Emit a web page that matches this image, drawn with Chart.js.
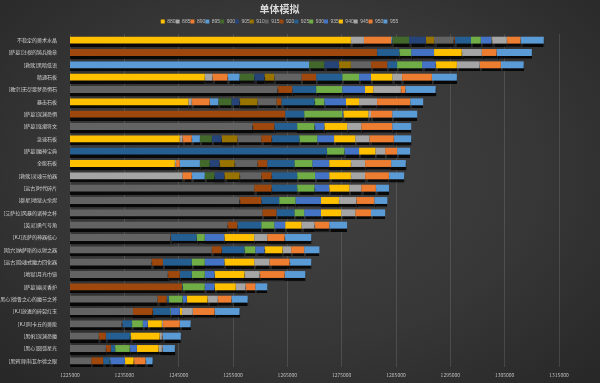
<!DOCTYPE html>
<html lang="zh">
<head>
<meta charset="utf-8">
<title>单体模拟</title>
<script src="https://cdn.jsdelivr.net/npm/chart.js@4"></script>
<style>
  html, body { margin: 0; padding: 0; }
  body {
    width: 600px; height: 383px; overflow: hidden;
    background: radial-gradient(ellipse at 50% 45%, #424242 0%, #373737 55%, #272727 100%);
  }
  canvas { display: block; }
</style>
</head>
<body>
<canvas id="simChart" width="600" height="383"></canvas>
<script>
// 饰品名称（从上到下）
const items = [
  '不稳定的奥术水晶', '[萨墓]注视的铸兵徽章', '[救赎]黑暗低语', '精通石板', '[教宗]无尽噩梦恐惧石',
  '暴击石板', '[萨墓]深渊恐惧', '[萨墓]涨潮符文', '急速石板', '[萨墓]魔神宝典',
  '全能石板', '[救赎]灵魂节拍器', '[远古]时代碎片', '[群星]地狱火余烬', '[艾萨拉]风暴的诸神之杯',
  '[英灵]勇气号角', '[KJ]克萨的神器核心', '[暗穴]纳萨斯的以射之器', '[远古]隐魂式魔力回化器', '[地狱]月光巾镜',
  '[萨墓]幽灵香炉', '[黑心]德鲁之心的魔节之斧', '[KJ]放逐的碎裂红玉', '[KJ]阿卡丘的奥能', '[黑帆]深渊恐魔',
  '[黑心]圆弧星光', '[黑鸦]斯科瓦尔德之眼'
];

// 装等
const ilvls = ['880', '885', '890', '895', '900', '905', '910', '915', '920', '925', '930', '935', '940', '945', '950', '955'];

// 各装等下的模拟 DPS（null = 该饰品没有这个装等）
const n = null;
const dps880 = [1276700, n, n, 1249800, n, 1246800, n, n, 1245200, n, 1244300, n, n, n, n, n, n, n, n, n, n, n, n, n, n, n, n];
const dps885 = [1279100, n, n, 1251200, n, 1247400, n, n, 1245700, n, 1244500, 1245700, n, n, n, n, n, n, n, n, n, n, n, n, n, n, n];
const dps890 = [1284100, n, n, 1254000, n, 1250700, n, n, 1247400, n, 1245200, 1247400, n, n, n, n, n, n, n, n, n, n, n, n, n, n, n];
const dps895 = [1284300, n, 1269000, 1256200, n, 1252300, n, n, 1248900, n, 1248900, 1249800, n, n, n, n, n, n, n, n, n, n, n, n, n, n, n];
const dps900 = [1287400, n, 1271800, 1258900, n, 1254700, n, n, 1251100, n, 1250700, 1251600, n, n, n, n, n, n, n, n, n, n, n, n, n, n, n];
const dps905 = [1290500, n, 1274500, 1260800, n, 1256200, n, n, 1252900, n, 1252500, 1253400, n, n, n, n, n, n, n, n, n, n, n, n, n, n, n];
const dps910 = [1292000, n, 1276700, 1262600, n, 1259500, n, n, 1255800, n, 1255300, 1256200, n, n, n, n, n, n, n, n, n, n, n, n, n, n, n];
const dps915 = [1295600, n, 1280400, 1267600, 1263200, 1263000, n, 1258600, 1260200, n, 1259500, 1260200, 1258900, 1256200, 1260400, 1254000, 1243400, 1251100, 1240000, 1243000, n, 1241100, 1236600, 1234500, 1230300, 1231600, 1228900];
const dps920 = [1295800, 1281500, 1283400, 1270300, 1265900, 1263900, 1264600, 1262600, 1262100, n, 1261300, 1262100, 1262100, 1260200, 1263000, 1255800, 1243500, 1252900, 1242100, 1245200, 1245600, 1242800, 1240200, 1234600, 1231600, 1232500, 1231100];
const dps925 = [1298800, 1285600, 1285200, 1275100, 1270300, 1270000, 1268100, 1266800, 1267200, 1272300, 1266300, 1266800, 1266800, 1263500, 1266300, 1260200, 1248300, 1257100, 1247400, 1247400, 1245700, 1243200, 1243400, 1236400, 1236000, 1233300, 1232300];
const dps930 = [1300600, 1287800, 1289800, 1278200, 1275100, 1271800, 1275100, 1270000, 1270500, 1275500, 1269600, 1270100, 1270000, 1266500, 1268100, 1262600, 1249800, 1259100, 1249800, 1249800, 1249800, 1245700, 1243500, 1238400, 1236100, 1236000, 1232400];
const dps935 = [1302600, 1292000, 1292300, 1280400, 1279300, 1275800, 1275300, 1271800, 1273600, 1278200, 1272700, 1272700, 1272700, 1271200, 1271200, 1264600, 1253400, 1260800, 1253400, 1251600, 1251600, 1246500, 1245200, 1239300, 1236200, 1237300, 1235100];
const dps940 = [1302700, 1297100, 1296200, 1284300, 1280800, 1278200, 1279900, 1276000, 1277500, 1281200, 1276700, 1276700, 1276400, 1274500, 1274900, 1267600, 1258900, 1264100, 1258900, 1257100, 1255500, 1250300, 1245600, 1241900, 1241500, 1241300, 1236700];
const dps945 = [1305400, 1300800, 1300400, 1286100, 1285900, 1281500, 1280400, 1278600, 1280100, 1283000, 1279300, 1279300, 1278600, 1277700, 1277500, 1270000, 1261300, 1265700, 1261700, 1259900, 1257300, 1252200, 1247600, 1242100, 1241900, 1241900, 1236800];
const dps950 = [1307900, 1303500, 1304300, 1291600, 1286700, 1287600, 1284300, 1284300, 1284600, 1285200, 1284100, 1283700, 1281300, 1281000, 1280400, 1272700, 1264500, 1268100, 1265400, 1264500, 1259100, 1254700, 1251600, 1245200, 1242000, 1242000, 1238900];
const dps955 = [1312200, 1310000, 1308500, 1296200, 1292300, 1290000, 1288900, 1287800, 1287800, 1287600, 1286800, 1286500, 1283700, 1283400, 1283000, 1276000, 1269400, 1270900, 1269400, 1268300, 1261300, 1257700, 1256200, 1247200, 1245400, 1244300, 1240200];

const series = [dps880, dps885, dps890, dps895, dps900, dps905, dps910, dps915,
                dps920, dps925, dps930, dps935, dps940, dps945, dps950, dps955];

const colors = ['#FFC000', '#A5A5A5', '#ED7D31', '#5B9BD5', '#43682B', '#264478', '#997300', '#636363',
                '#9E480E', '#255E91', '#70AD47', '#4472C4', '#FFC000', '#A5A5A5', '#ED7D31', '#5B9BD5'];

const FONT = '"Noto Sans CJK SC", "Noto Sans", sans-serif';

// 堆叠：第一段是起始装等的 DPS，后面每段是升一档的提升量
const datasets = ilvls.map((lvl, k) => ({
  label: lvl,
  data: items.map((_, i) => {
    const v = series[k][i];
    if (v == null) return null;
    for (let j = k - 1; j >= 0; j--) {
      if (series[j][i] != null) return v - series[j][i];
    }
    return v;
  }),
  backgroundColor: colors[k],
  borderWidth: 0,
  barPercentage: 0.56,
  categoryPercentage: 1
}));

// 条形下方的黑色阴影
const barShadow = {
  id: 'barShadow',
  beforeDatasetsDraw(chart) {
    const c = chart.ctx;
    c.save();
    c.shadowColor = 'rgba(0,0,0,0.85)';
    c.shadowOffsetY = 3;
    c.shadowBlur = 1;
  },
  afterDatasetsDraw(chart) {
    chart.ctx.restore();
  }
};

new Chart(document.getElementById('simChart').getContext('2d'), {
  type: 'bar',
  data: { labels: items, datasets: datasets },
  plugins: [barShadow],
  options: {
    indexAxis: 'y',
    responsive: false,
    animation: false,
    layout: { padding: { left: 0, right: 41, top: 0, bottom: 0 } },
    scales: {
      x: {
        stacked: true,
        min: 1225000,
        max: 1315000,
        ticks: {
          stepSize: 10000,
          color: '#bfbfbf',
          font: { family: FONT, size: 5 },
          padding: 5,
          maxRotation: 0,
          callback: v => String(v)
        },
        grid: { color: 'rgba(255,255,255,0.12)', drawTicks: false },
        border: { display: false }
      },
      y: {
        stacked: true,
        grid: { display: false },
        border: { display: false },
        ticks: {
          autoSkip: false,
          color: '#d0d0d0',
          font: { family: FONT, size: 5 },
          padding: 5
        },
        afterFit: scale => { scale.width = 70; }
      }
    },
    plugins: {
      title: {
        display: true,
        text: '单体模拟',
        color: '#d9d9d9',
        font: { family: FONT, size: 10, weight: 'bold' },
        padding: { top: 3, bottom: 4 }
      },
      legend: {
        position: 'top',
        labels: {
          color: '#bfbfbf',
          font: { family: '"Liberation Sans", sans-serif', size: 5 },
          boxWidth: 4,
          boxHeight: 4,
          padding: 0
        }
      },
      tooltip: { enabled: false }
    }
  }
});
</script>
</body>
</html>
